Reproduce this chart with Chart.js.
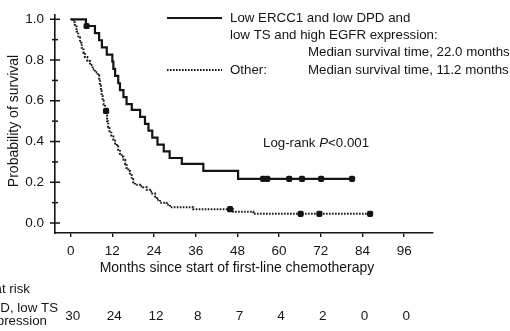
<!DOCTYPE html>
<html>
<head>
<meta charset="utf-8">
<script src="https://cdn.jsdelivr.net/npm/chart.js@4/dist/chart.umd.min.js"></script>
<style>
  html, body { margin: 0; padding: 0; background: #fff; }
  #wrap { width: 510px; height: 331px; }
</style>
</head>
<body>
<div id="wrap"><canvas id="km" width="510" height="331"></canvas></div>
<script>
const xTicks = [0, 12, 24, 36, 48, 60, 72, 84, 96];
const yTicks = [0, 0.2, 0.4, 0.6, 0.8, 1.0];
const yMinorTicks = [0.1, 0.3, 0.5, 0.7, 0.9];

// low ERCC1 / low DPD / low TS / high EGFR group: month of drop, survival after it
const lowTimes = [0, 4.4, 7.0, 8.2, 9.0, 10.4, 12.0, 12.3, 12.8, 13.7, 14.2, 15.2, 16.1, 17.6, 20.0, 21.4, 22.4, 23.5, 25.0, 26.8, 28.5, 32.0, 38.2, 48.2, 81.0];
const lowSurv = [1.0, 0.967, 0.932, 0.897, 0.862, 0.827, 0.792, 0.757, 0.722, 0.686, 0.652, 0.618, 0.584, 0.555, 0.521, 0.487, 0.453, 0.419, 0.385, 0.352, 0.319, 0.290, 0.256, 0.217, 0.217];
const lowCensorTimes = [4.6, 55.4, 56.6, 62.9, 66.6, 72.1, 81.0];
const lowCensorSurv = [0.967, 0.217, 0.217, 0.217, 0.217, 0.217, 0.217];

// other patients
const otherTimes = [0, 0.8, 1.2, 1.7, 2.2, 2.7, 3.2, 3.7, 4.1, 4.8, 5.6, 6.3, 7.0, 7.8, 8.2, 8.4, 8.7, 8.9, 9.2, 9.5, 9.9, 10.5, 10.8, 11.2, 11.7, 12.3, 12.8, 13.3, 13.7, 14.2, 14.7, 15.2, 15.7, 16.1, 16.6, 17.1, 17.6, 18.0, 18.5, 20.0, 20.9, 21.9, 22.8, 23.5, 24.3, 24.8, 25.7, 27.6, 28.6, 35.3, 46.8, 52.6, 86.2];
const otherSurv = [1.0, 0.985, 0.965, 0.94, 0.91, 0.885, 0.86, 0.835, 0.815, 0.795, 0.775, 0.755, 0.74, 0.725, 0.70, 0.675, 0.65, 0.625, 0.60, 0.58, 0.56, 0.50, 0.47, 0.45, 0.43, 0.41, 0.39, 0.375, 0.36, 0.34, 0.325, 0.31, 0.29, 0.27, 0.255, 0.235, 0.215, 0.20, 0.188, 0.18, 0.175, 0.163, 0.155, 0.145, 0.13, 0.114, 0.10, 0.09, 0.078, 0.068, 0.055, 0.045, 0.045];
const otherCensorTimes = [10.2, 45.9, 66.2, 71.6, 86.2];
const otherCensorSurv = [0.55, 0.068, 0.045, 0.045, 0.045];

const riskTimes = [0, 12, 24, 36, 48, 60, 72, 84, 96];
const riskLow = [30, 24, 12, 8, 7, 4, 2, 0, 0];

const FONT = '"Liberation Sans", Arial, Helvetica, sans-serif';
const INK = "#141414";

function pts(xs, ys) {
    return xs.map((x, i) => ({ x: x, y: ys[i] }));
}

// extra drawing: crossing y ticks, titles, legend, at-risk table
const decor = {
    id: "decor",
    afterDraw(chart) {
        const ctx = chart.ctx;
        const xs = chart.scales.x;
        const ys = chart.scales.y;
        const left = chart.chartArea.left;
        ctx.save();
        ctx.strokeStyle = INK;
        ctx.lineWidth = 1.5;
        yTicks.forEach(v => {
            const y = ys.getPixelForValue(v);
            ctx.beginPath();
            ctx.moveTo(left - 5, y);
            ctx.lineTo(left + 5, y);
            ctx.stroke();
        });
        yMinorTicks.forEach(v => {
            const y = ys.getPixelForValue(v);
            ctx.beginPath();
            ctx.moveTo(left - 3, y);
            ctx.lineTo(left + 3, y);
            ctx.stroke();
        });

        ctx.fillStyle = INK;
        ctx.textBaseline = "middle";

        // axis titles
        ctx.font = "14px " + FONT;
        ctx.textAlign = "center";
        ctx.fillText("Months since start of first-line chemotherapy", 237, 268);
        ctx.save();
        ctx.translate(14, 121);
        ctx.rotate(-Math.PI / 2);
        ctx.fillText("Probability of survival", 0, 0);
        ctx.restore();

        // legend
        ctx.font = "13.3px " + FONT;
        ctx.lineWidth = 2;
        ctx.beginPath();
        ctx.moveTo(167, 18);
        ctx.lineTo(222, 18);
        ctx.stroke();
        ctx.setLineDash([1.6, 1.4]);
        ctx.beginPath();
        ctx.moveTo(167, 70);
        ctx.lineTo(222, 70);
        ctx.stroke();
        ctx.setLineDash([]);
        ctx.textAlign = "left";
        ctx.fillText("Low ERCC1 and low DPD and", 230, 18);
        ctx.fillText("low TS and high EGFR expression:", 230, 35);
        ctx.fillText("Median survival time, 22.0 months", 308, 52);
        ctx.fillText("Other:", 230, 70);
        ctx.fillText("Median survival time, 11.2 months", 308, 70);

        // log-rank
        ctx.fillText("Log-rank ", 263, 143.5);
        let w = ctx.measureText("Log-rank ").width;
        ctx.font = "italic 13.3px " + FONT;
        ctx.fillText("P", 263 + w, 143.5);
        w += ctx.measureText("P").width;
        ctx.font = "13.3px " + FONT;
        ctx.fillText("<0.001", 263 + w, 143.5);

        // numbers at risk
        ctx.textAlign = "right";
        ctx.fillText("Number at risk", 30, 289);
        ctx.fillText("Low ERCC1, low DPD, low TS", 58, 308);
        ctx.fillText("and high EGFR expression", 47, 321.5);
        ctx.font = "13.5px " + FONT;
        ctx.textAlign = "center";
        riskTimes.forEach((t, i) => {
            ctx.fillText(String(riskLow[i]), xs.getPixelForValue(t) + 2, 316);
        });
        ctx.restore();
    }
};

const censorStyle = {
    type: "scatter",
    showLine: false,
    pointStyle: "rectRounded",
    pointRadius: 3.6,
    backgroundColor: INK,
    borderColor: INK,
    borderWidth: 0
};

new Chart(document.getElementById("km"), {
    type: "line",
    data: {
        datasets: [
            {
                data: pts(lowTimes, lowSurv),
                stepped: true,
                borderColor: INK,
                borderWidth: 2.2,
                pointRadius: 0,
                fill: false
            },
            {
                data: pts(otherTimes, otherSurv),
                stepped: true,
                borderColor: INK,
                borderWidth: 2,
                borderDash: [1.6, 1.4],
                pointRadius: 0,
                fill: false
            },
            Object.assign({ data: pts(lowCensorTimes, lowCensorSurv) }, censorStyle),
            Object.assign({ data: pts(otherCensorTimes, otherCensorSurv) }, censorStyle)
        ]
    },
    options: {
        responsive: false,
        animation: false,
        devicePixelRatio: 1,
        layout: { padding: { left: 0, right: 77, top: 15, bottom: 0 } },
        plugins: {
            legend: { display: false },
            tooltip: { enabled: false }
        },
        scales: {
            x: {
                type: "linear",
                min: -4.5,
                max: 104.3,
                afterBuildTicks: ax => { ax.ticks = xTicks.map(v => ({ value: v })); },
                afterFit: s => { s.height = 98; s.paddingLeft = 0; s.paddingRight = 0; },
                grid: { display: true, drawOnChartArea: false, drawTicks: true, tickLength: 4, color: INK, tickColor: INK, lineWidth: 1.4 },
                border: { display: true, color: INK, width: 1.6 },
                ticks: { color: INK, font: { family: FONT, size: 13.5 }, padding: 6, maxRotation: 0, autoSkip: false }
            },
            y: {
                type: "linear",
                min: -0.049,
                max: 1.021,
                afterBuildTicks: ax => { ax.ticks = yTicks.map(v => ({ value: v })); },
                afterFit: s => { s.width = 55; s.paddingTop = 0; s.paddingBottom = 0; },
                grid: { display: false, drawTicks: false },
                border: { display: true, color: INK, width: 1.6 },
                ticks: { color: INK, font: { family: FONT, size: 13.5 }, padding: 11, callback: v => v.toFixed(1) }
            }
        }
    },
    plugins: [decor]
});
</script>
</body>
</html>
